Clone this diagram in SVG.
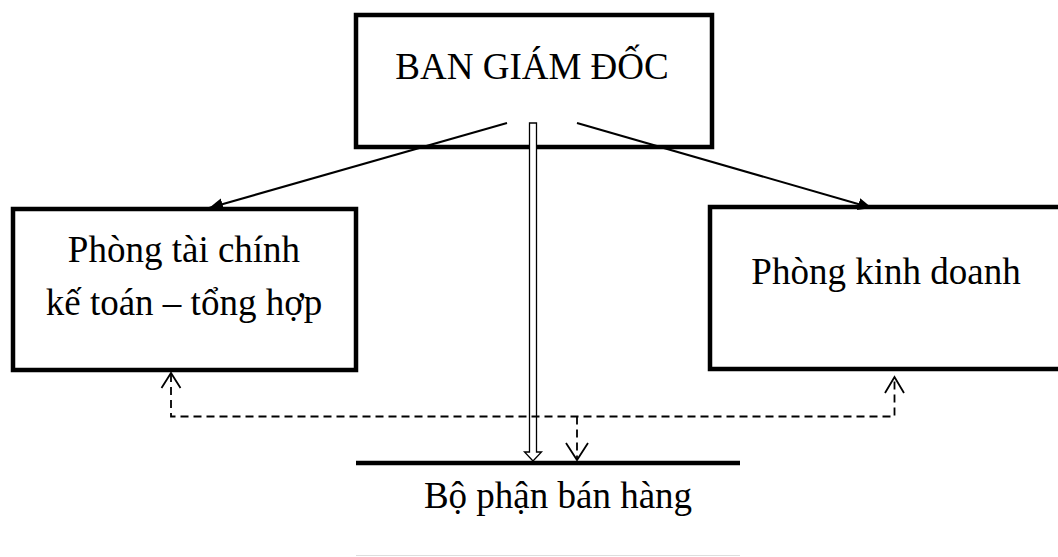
<svg xmlns="http://www.w3.org/2000/svg" width="1058" height="557" viewBox="0 0 1058 557">
  <style>
    .box { fill: #fff; stroke: #000; stroke-width: 4.5; }
    .label { font-family: "Liberation Serif", "Times New Roman", serif; font-size: 37px; fill: #000; text-anchor: middle; }
    .solid { stroke: #000; stroke-width: 2; fill: none; }
    .dash { stroke: #000; stroke-width: 1.8; fill: none; stroke-dasharray: 8 5; }
    .open-head { stroke: #000; stroke-width: 1.8; fill: none; }
    .hollow { fill: #fff; stroke: #000; stroke-width: 1.3; }
  </style>
  <defs>
    <marker id="filled" markerUnits="userSpaceOnUse" markerWidth="16" markerHeight="14" refX="14" refY="6" orient="auto">
      <path d="M0,0 L14,6 L0,12 Z" fill="#000"/>
    </marker>
  </defs>

  <rect width="1058" height="557" fill="#fff"/>

  <g id="node-ban-giam-doc">
    <rect class="box" x="356" y="15" width="356" height="132"/>
    <text class="label" x="532" y="79">BAN GIÁM ĐỐC</text>
  </g>

  <g id="node-phong-tai-chinh">
    <rect class="box" x="13" y="209" width="343" height="161"/>
    <text class="label" x="184" y="262">Phòng tài chính</text>
    <text class="label" x="184" y="315">kế toán – tổng hợp</text>
  </g>

  <g id="node-phong-kinh-doanh">
    <rect class="box" x="710" y="207" width="370" height="162"/>
    <text class="label" x="886" y="284">Phòng kinh doanh</text>
  </g>

  <g id="node-bo-phan-ban-hang">
    <path d="M356 463 H740" stroke="#000" stroke-width="4.5" fill="none"/>
    <path d="M356 555.5 H740" stroke="#ddd" stroke-width="1" fill="none"/>
    <text class="label" x="558" y="508">Bộ phận bán hàng</text>
  </g>

  <g id="connectors">
    <!-- management to the two departments -->
    <line class="solid" x1="507" y1="123" x2="209" y2="208" marker-end="url(#filled)"/>
    <line class="solid" x1="577" y1="123" x2="872" y2="208" marker-end="url(#filled)"/>

    <!-- hollow command arrow down to sales -->
    <path class="hollow" d="M529.5 123 H536.5 V452 H541.5 L533 461 L524.5 452 H529.5 Z"/>

    <!-- dashed information links -->
    <path class="dash" d="M171 374 V416.5 H894.5 V378"/>
    <path class="dash" d="M577 416.5 V459"/>
    <path class="open-head" d="M161.5 388 L171 373 L180.5 388"/>
    <path class="open-head" d="M885 393 L894.5 377 L904 393"/>
    <path class="open-head" d="M566 443 L577 460 L588 443"/>
  </g>
</svg>
